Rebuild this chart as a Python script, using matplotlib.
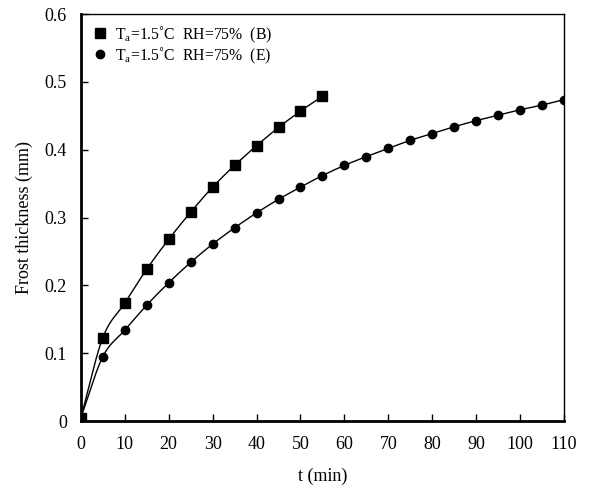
import numpy as np
import matplotlib.pyplot as plt

plt.rcParams['font.family'] = ['Liberation Serif', 'DejaVu Serif']
plt.rcParams['mathtext.fontset'] = 'custom'
plt.rcParams['mathtext.rm'] = 'Liberation Serif'

# frost thickness vs time, two test cases
t_b = [0, 5, 10, 15, 20, 25, 30, 35, 40, 45, 50, 55]
h_b = [0.005, 0.123, 0.174, 0.224, 0.268, 0.308, 0.345, 0.377, 0.406, 0.433, 0.457, 0.479]

t_e = [0, 5, 10, 15, 20, 25, 30, 35, 40, 45, 50, 55, 60, 65, 70, 75, 80, 85, 90, 95, 100, 105, 110]
h_e = [0.005, 0.095, 0.134, 0.171, 0.204, 0.234, 0.261, 0.285, 0.307, 0.327, 0.345, 0.362,
       0.377, 0.390, 0.402, 0.414, 0.424, 0.434, 0.443, 0.451, 0.459, 0.466, 0.474]

xticks = list(range(0, 111, 10))
yticks = [0, 0.1, 0.2, 0.3, 0.4, 0.5, 0.6]
yticklabels = ['0', '0.1', '0.2', '0.3', '0.4', '0.5', '0.6']


def smooth(x, y, n=20):
    # catmull-rom curve through the points, for the connecting line only
    x = np.asarray(x, float)
    y = np.asarray(y, float)
    px = np.concatenate([[2 * x[0] - x[1]], x, [2 * x[-1] - x[-2]]])
    py = np.concatenate([[2 * y[0] - y[1]], y, [2 * y[-1] - y[-2]]])
    s = np.linspace(0, 1, n, endpoint=False)
    xs, ys = [], []
    for i in range(1, len(px) - 2):
        for p, out in ((px, xs), (py, ys)):
            p0, p1, p2, p3 = p[i - 1], p[i], p[i + 1], p[i + 2]
            out.extend(0.5 * (2 * p1 + (-p0 + p2) * s + (2 * p0 - 5 * p1 + 4 * p2 - p3) * s ** 2
                              + (-p0 + 3 * p1 - 3 * p2 + p3) * s ** 3))
    xs.append(x[-1])
    ys.append(y[-1])
    return xs, ys


fig = plt.figure(figsize=(5.9, 4.88), dpi=100)
ax = fig.add_axes([0.137, 0.137, 0.819, 0.834])

ax.plot(*smooth(t_b, h_b), color='black', lw=1)
ax.plot(*smooth(t_e, h_e), color='black', lw=1)
ax.plot(t_b, h_b, 's', color='black', ms=6.5, label=r'T$_\mathrm{a}$=1.5˚C  RH=75%  (B)')
ax.plot(t_e, h_e, 'o', color='black', ms=6, label=r'T$_\mathrm{a}$=1.5˚C  RH=75%  (E)')

ax.set_xlim(0, 110)
ax.set_ylim(0, 0.6)
ax.set_xticks(xticks)
ax.set_yticks(yticks)
ax.set_yticklabels(yticklabels)
ax.tick_params(direction='in', length=5, width=1, labelsize=13, pad=11)
ax.tick_params(axis='y', pad=10)
ax.spines['left'].set_linewidth(2)
ax.spines['bottom'].set_linewidth(2)
ax.spines['top'].set_linewidth(1)
ax.spines['right'].set_linewidth(1)

ax.set_xlabel('t (min)', fontsize=13, labelpad=10)
ax.set_ylabel('Frost thickness (mm)', fontsize=13, labelpad=8)

ax.legend(loc='upper left', frameon=False, fontsize=11.3, handletextpad=0.3,
          handlelength=1.2, borderaxespad=0.25, labelspacing=0.05)

fig.savefig('out.png', dpi=100)
